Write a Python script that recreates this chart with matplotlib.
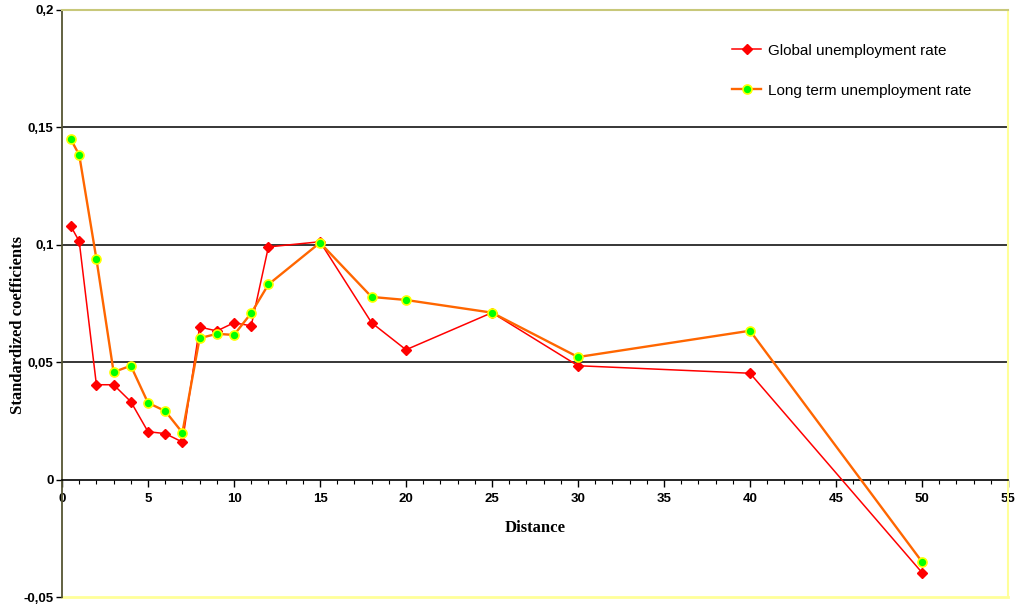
import matplotlib
matplotlib.use('Agg')
import matplotlib.pyplot as plt
from matplotlib.ticker import MultipleLocator, FuncFormatter

# distances and coefficients
distance = [0.5, 1, 2, 3, 4, 5, 6, 7, 8, 9, 10, 11, 12, 15, 18, 20, 25, 30, 40, 50]
global_rate = [0.1081, 0.1015, 0.0404, 0.0404, 0.0332, 0.0204, 0.0196, 0.0160,
               0.0650, 0.0633, 0.0668, 0.0655, 0.0991, 0.1013, 0.0668, 0.0553,
               0.0711, 0.0485, 0.0453, -0.0396]
long_term = [0.1451, 0.1383, 0.0940, 0.0458, 0.0485, 0.0327, 0.0292, 0.0200,
             0.0602, 0.0621, 0.0616, 0.0709, 0.0831, 0.1009, 0.0778, 0.0765,
             0.0711, 0.0522, 0.0634, -0.0350]

fig = plt.figure(figsize=(10.19, 6.08), dpi=100)
ax = fig.add_axes([62/1019, 1-597/608, (1008-62)/1019, (597-10)/608])

ax.plot(distance, global_rate, color='#ff0000', lw=1.1, marker='D', ms=5.5,
        mfc='#ff0000', mec='#ff0000', label='Global unemployment rate', zorder=3)
ax.plot(distance, long_term, color='#ff6600', lw=1.7, marker='o', ms=6.5,
        mfc='#00ff00', mec='#ffff00', mew=1.2, label='Long term unemployment rate', zorder=4)

ax.set_xlim(0, 55)
ax.set_ylim(-0.05, 0.2)
for g in [0.05, 0.1, 0.15]:
    ax.axhline(g, color='black', lw=1.1, zorder=1)
ax.axhline(-0.05, color='#ffff99', lw=2, zorder=1, clip_on=False)

ax.spines['bottom'].set_position(('data', 0))
ax.spines['bottom'].set_color('black')
ax.spines['bottom'].set_linewidth(1.2)
ax.spines['left'].set_color('#555533')
ax.spines['left'].set_linewidth(1.3)
ax.spines['top'].set_color('#c8c87a')
ax.spines['top'].set_linewidth(1.5)
ax.spines['right'].set_color('#ffff99')
ax.spines['right'].set_linewidth(1.5)

ax.xaxis.set_major_locator(MultipleLocator(5))
ax.xaxis.set_minor_locator(MultipleLocator(1))
ax.yaxis.set_major_locator(MultipleLocator(0.05))
fmt = FuncFormatter(lambda v, p: f"{round(v, 3):g}".replace('.', ','))
ax.yaxis.set_major_formatter(fmt)
ax.tick_params(axis='x', which='major', length=5, width=1, pad=5, direction='out')
ax.tick_params(axis='x', which='minor', length=3, width=0.8, direction='out')
ax.tick_params(axis='y', which='major', length=4, width=1, pad=2)
for lab in ax.get_xticklabels() + ax.get_yticklabels():
    lab.set_fontfamily('Liberation Sans')
    lab.set_fontweight('bold')
    lab.set_fontsize(9.5)

ax.text(27.5, -0.0205, 'Distance', ha='center', va='center',
        family='Liberation Serif', weight='bold', fontsize=12)
fig.text(18/1019, 1-325/608, 'Standardized coefficients', rotation=90,
         ha='center', va='center', family='Liberation Serif', weight='bold', fontsize=12)

leg = ax.legend(loc='upper left', bbox_to_anchor=(724/1019, 1-36/608),
                bbox_transform=fig.transFigure, frameon=False, borderpad=0,
                handlelength=1.95, handletextpad=0.4, labelspacing=1.7,
                prop={'family': 'Liberation Sans', 'size': 11})

fig.savefig('out.png', dpi=100)
